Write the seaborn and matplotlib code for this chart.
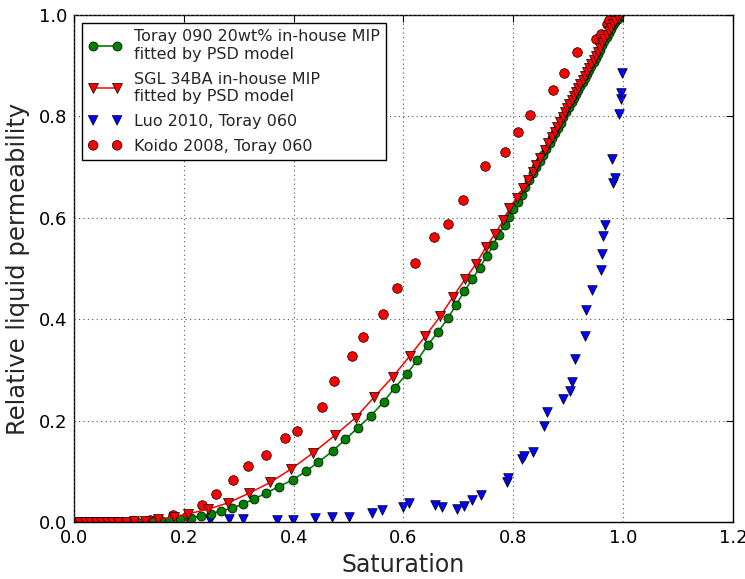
import matplotlib
matplotlib.use("Agg")
import matplotlib.pyplot as plt
import seaborn as sns
import pandas as pd

# PSD-model fit, Toray 090 20wt% (in-house MIP)
toray090_sat = [0.000, 0.010, 0.020, 0.030, 0.040, 0.050, 0.060, 0.070, 0.080, 0.090,
                0.100, 0.115, 0.130, 0.145, 0.160, 0.173, 0.193, 0.213, 0.231, 0.249,
                0.267, 0.287, 0.307, 0.327, 0.350, 0.373, 0.398, 0.422, 0.445, 0.471,
                0.494, 0.517, 0.541, 0.564, 0.584, 0.606, 0.625, 0.644, 0.663, 0.681,
                0.696, 0.711, 0.725, 0.739, 0.752, 0.763, 0.773, 0.784, 0.792, 0.800,
                0.808, 0.815, 0.822, 0.829, 0.836, 0.842, 0.848, 0.854, 0.860, 0.866,
                0.871, 0.876, 0.881, 0.886, 0.891, 0.896, 0.901, 0.906, 0.910, 0.914,
                0.918, 0.922, 0.926, 0.930, 0.934, 0.938, 0.942, 0.946, 0.950, 0.954,
                0.958, 0.962, 0.966, 0.970, 0.974, 0.978, 0.982, 0.986, 0.990, 0.993]
toray090_krl = [0.000, 0.000, 0.000, 0.000, 0.000, 0.000, 0.000, 0.000, 0.000, 0.000,
                0.001, 0.001, 0.001, 0.002, 0.002, 0.003, 0.005, 0.008, 0.012, 0.016,
                0.022, 0.027, 0.035, 0.045, 0.057, 0.070, 0.083, 0.100, 0.118, 0.140,
                0.163, 0.186, 0.210, 0.237, 0.265, 0.292, 0.319, 0.349, 0.375, 0.402,
                0.429, 0.455, 0.479, 0.502, 0.525, 0.546, 0.567, 0.585, 0.602, 0.617,
                0.632, 0.646, 0.660, 0.674, 0.688, 0.700, 0.712, 0.724, 0.736, 0.748,
                0.758, 0.768, 0.778, 0.788, 0.798, 0.808, 0.818, 0.828, 0.836, 0.844,
                0.852, 0.860, 0.868, 0.876, 0.884, 0.892, 0.900, 0.908, 0.916, 0.924,
                0.932, 0.940, 0.948, 0.956, 0.964, 0.972, 0.980, 0.987, 0.993, 0.998]

# PSD-model fit, SGL 34BA (in-house MIP)
sgl34ba_sat = [0.000, 0.010, 0.020, 0.030, 0.040, 0.050, 0.060, 0.070, 0.080, 0.095,
               0.110, 0.130, 0.153, 0.182, 0.207, 0.244, 0.281, 0.319, 0.357, 0.396,
               0.436, 0.475, 0.513, 0.547, 0.581, 0.611, 0.640, 0.667, 0.690, 0.712,
               0.732, 0.750, 0.767, 0.782, 0.793, 0.806, 0.818, 0.826, 0.835, 0.842,
               0.849, 0.858, 0.864, 0.870, 0.875, 0.880, 0.885, 0.890, 0.894, 0.898,
               0.902, 0.906, 0.910, 0.914, 0.918, 0.922, 0.926, 0.930, 0.934, 0.938,
               0.942, 0.946, 0.950, 0.954, 0.958, 0.962, 0.966, 0.970, 0.974, 0.978,
               0.982, 0.986, 0.990, 0.994]
sgl34ba_krl = [0.000, 0.000, 0.000, 0.000, 0.000, 0.000, 0.000, 0.000, 0.001, 0.001,
               0.002, 0.003, 0.005, 0.010, 0.016, 0.025, 0.038, 0.057, 0.078, 0.105,
               0.137, 0.171, 0.206, 0.247, 0.287, 0.327, 0.367, 0.406, 0.444, 0.479,
               0.509, 0.542, 0.569, 0.595, 0.619, 0.640, 0.659, 0.674, 0.691, 0.705,
               0.719, 0.733, 0.748, 0.759, 0.769, 0.779, 0.789, 0.799, 0.808, 0.816,
               0.824, 0.832, 0.840, 0.848, 0.856, 0.864, 0.872, 0.880, 0.888, 0.896,
               0.904, 0.912, 0.920, 0.928, 0.936, 0.944, 0.952, 0.960, 0.968, 0.975,
               0.982, 0.989, 0.995, 1.000]

# Luo 2010, Toray 060
luo_sat = [0.248, 0.282, 0.307, 0.370, 0.398, 0.439, 0.469, 0.500, 0.543, 0.561,
           0.599, 0.610, 0.658, 0.670, 0.697, 0.710, 0.725, 0.741, 0.788, 0.791,
           0.816, 0.819, 0.835, 0.855, 0.861, 0.890, 0.904, 0.907, 0.913, 0.930,
           0.933, 0.944, 0.959, 0.961, 0.963, 0.967, 0.982, 0.985, 0.980, 0.993,
           0.996, 0.996, 0.998]
luo_krl = [0.004, 0.005, 0.005, 0.004, 0.004, 0.007, 0.010, 0.010, 0.017, 0.023,
           0.030, 0.037, 0.033, 0.030, 0.025, 0.031, 0.043, 0.053, 0.079, 0.086,
           0.124, 0.130, 0.138, 0.189, 0.218, 0.243, 0.258, 0.277, 0.321, 0.366,
           0.418, 0.458, 0.498, 0.528, 0.564, 0.586, 0.669, 0.679, 0.717, 0.805,
           0.835, 0.847, 0.886]

# Koido 2008, Toray 060
koido_sat = [0.020, 0.040, 0.060, 0.080, 0.110, 0.139, 0.181, 0.205, 0.233, 0.258,
             0.290, 0.316, 0.350, 0.385, 0.406, 0.452, 0.473, 0.506, 0.527, 0.563,
             0.589, 0.621, 0.656, 0.681, 0.708, 0.749, 0.785, 0.808, 0.831, 0.872,
             0.892, 0.916, 0.950, 0.959, 0.971, 0.975]
koido_krl = [0.000, 0.000, 0.000, 0.001, 0.003, 0.004, 0.013, 0.012, 0.033, 0.055,
             0.083, 0.111, 0.132, 0.165, 0.180, 0.227, 0.278, 0.328, 0.364, 0.411,
             0.461, 0.511, 0.563, 0.588, 0.636, 0.702, 0.730, 0.770, 0.803, 0.853,
             0.886, 0.928, 0.952, 0.963, 0.983, 0.991]

labels = ["Toray 090 20wt% in-house MIP\nfitted by PSD model",
          "SGL 34BA in-house MIP\nfitted by PSD model",
          "Luo 2010, Toray 060",
          "Koido 2008, Toray 060"]

x_ticks = [0.0, 0.2, 0.4, 0.6, 0.8, 1.0, 1.2]
y_ticks = [0.0, 0.2, 0.4, 0.6, 0.8, 1.0]

sns.set_theme(style="white")
plt.rcParams.update({
    "font.family": ["DejaVu Sans"],
    "xtick.direction": "in",
    "ytick.direction": "in",
    "xtick.top": True,
    "ytick.right": True,
    "xtick.major.size": 5,
    "ytick.major.size": 5,
    "xtick.major.width": 0.8,
    "ytick.major.width": 0.8,
    "axes.edgecolor": "black",
    "axes.linewidth": 1.0,
})

fig = plt.figure(figsize=(7.45, 5.79), dpi=100)
ax = fig.add_axes([0.0993, 0.0984, 0.8846, 0.8756])

df_toray = pd.DataFrame({"s": toray090_sat, "k": toray090_krl})
df_sgl = pd.DataFrame({"s": sgl34ba_sat, "k": sgl34ba_krl})
df_luo = pd.DataFrame({"s": luo_sat, "k": luo_krl})
df_koido = pd.DataFrame({"s": koido_sat, "k": koido_krl})

sns.lineplot(data=df_toray, x="s", y="k", ax=ax, sort=False, estimator=None,
             color="#008000", lw=1.2, marker="o", markersize=6.5,
             markeredgecolor="black", markeredgewidth=0.5, label=labels[0])
sns.lineplot(data=df_sgl, x="s", y="k", ax=ax, sort=False, estimator=None,
             color="#ff0000", lw=1.1, marker="v", markersize=6.5,
             markeredgecolor="black", markeredgewidth=0.5, label=labels[1])
sns.scatterplot(data=df_luo, x="s", y="k", ax=ax, color="#0000ff", marker="v",
                s=48, edgecolor="black", linewidth=0.5, label=labels[2])
sns.scatterplot(data=df_koido, x="s", y="k", ax=ax, color="#ff0000", marker="o",
                s=48, edgecolor="black", linewidth=0.5, label=labels[3])

ax.set_xlim(0.0, 1.2)
ax.set_ylim(0.0, 1.0)
ax.set_xticks(x_ticks)
ax.set_yticks(y_ticks)
ax.set_xticklabels([f"{t:.1f}" for t in x_ticks], fontsize=13)
ax.set_yticklabels([f"{t:.1f}" for t in y_ticks], fontsize=13)
ax.tick_params(axis="both", pad=5, colors="black")
ax.grid(True, color="#555555", linestyle=(0, (1, 3)), linewidth=0.8)
ax.set_axisbelow(False)
for spine in ax.spines.values():
    spine.set_visible(True)
    spine.set_color("black")

ax.set_xlabel("Saturation", fontsize=17, labelpad=4)
ax.set_ylabel("Relative liquid permeability", fontsize=17.5, labelpad=6)

leg = ax.legend(loc="upper left", fontsize=11.5, numpoints=2, scatterpoints=2,
                scatteryoffsets=[0.5], handlelength=2.1, handletextpad=0.75,
                borderpad=0.4, labelspacing=0.62, fancybox=False, frameon=True,
                framealpha=1.0, borderaxespad=0.5)
leg.get_frame().set_edgecolor("black")
leg.get_frame().set_linewidth(1.0)

fig.savefig("out.png", dpi=100)
